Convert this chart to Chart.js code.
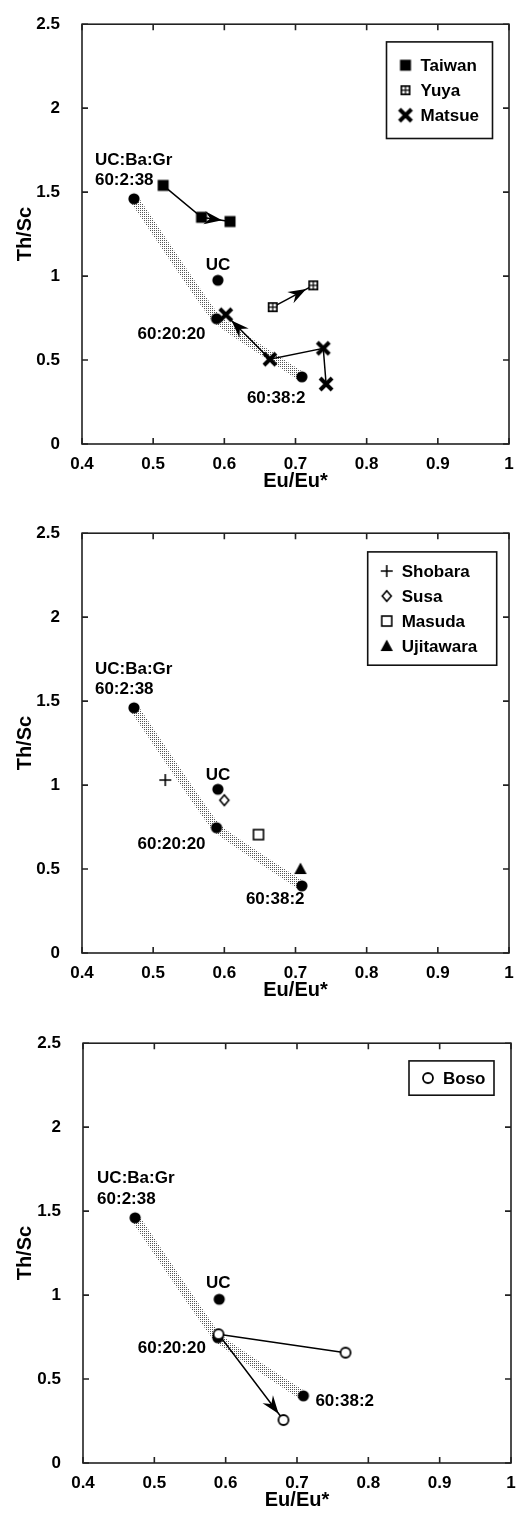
<!DOCTYPE html>
<html>
<head>
<meta charset="utf-8">
<script src="https://cdn.jsdelivr.net/npm/chart.js@4.4.0/dist/chart.umd.min.js"></script>
<style>
html, body { margin: 0; padding: 0; background: #fff; }
body { width: 524px; height: 1517px; position: relative; overflow: hidden; }
canvas { position: absolute; left: 0; }
</style>
</head>
<body>
<canvas id="panel1" width="524" height="498" style="top:0px"></canvas>
<canvas id="panel2" width="524" height="498" style="top:509px"></canvas>
<canvas id="panel3" width="524" height="498" style="top:1019px"></canvas>
<script>
// Tick labels
const xTickLabels = ['0.4', '0.5', '0.6', '0.7', '0.8', '0.9', '1'];
const yTickLabels = ['0', '0.5', '1', '1.5', '2', '2.5'];

// Mixing model UC:Ba:Gr (Eu/Eu*, Th/Sc)
const mixLabels = ['60:2:38', '60:20:20', '60:38:2'];
const mixEu = [0.473, 0.589, 0.709];
const mixTh = [1.46, 0.746, 0.40];
const ucEu = [0.591];
const ucTh = [0.975];

// Panel 1 samples
const taiwanEu = [0.514, 0.568, 0.608];
const taiwanTh = [1.54, 1.35, 1.325];
const yuyaEu = [0.668, 0.725];
const yuyaTh = [0.815, 0.945];
const matsueEu = [0.743, 0.739, 0.664, 0.602];
const matsueTh = [0.357, 0.57, 0.505, 0.77];

// Panel 2 samples
const shobaraEu = [0.517];
const shobaraTh = [1.03];
const susaEu = [0.60];
const susaTh = [0.91];
const masudaEu = [0.648];
const masudaTh = [0.705];
const ujitawaraEu = [0.707];
const ujitawaraTh = [0.50];

// Panel 3 samples
const bosoEu = [0.768, 0.59, 0.681];
const bosoTh = [0.657, 0.767, 0.256];

const FONT = "'Liberation Sans', Arial, Helvetica, sans-serif";
Chart.defaults.font.family = FONT;
Chart.defaults.font.size = 17;
Chart.defaults.color = '#000';

function toPts(xs, ys) {
    return xs.map((x, i) => ({ x: x, y: ys[i] }));
}

// Marker images used as point styles and in the legends
function makeMarker(kind) {
    const c = document.createElement('canvas');
    c.width = 20; c.height = 20;
    const g = c.getContext('2d');
    g.translate(10, 10);
    g.strokeStyle = '#000';
    g.fillStyle = '#000';
    g.lineWidth = 1.5;
    if (kind === 'dot') {
        g.beginPath(); g.arc(0, 0, 5.6, 0, Math.PI * 2); g.fill();
    } else if (kind === 'square') {
        g.fillRect(-5.5, -5.5, 11, 11);
    } else if (kind === 'grid') {
        g.fillRect(-5, -5, 10, 10);
        g.fillStyle = '#fff';
        g.fillRect(-3.3, -3.3, 2.7, 2.7);
        g.fillRect(0.6, -3.3, 2.7, 2.7);
        g.fillRect(-3.3, 0.6, 2.7, 2.7);
        g.fillRect(0.6, 0.6, 2.7, 2.7);
    } else if (kind === 'cross') {
        g.lineWidth = 4;
        g.beginPath(); g.moveTo(-6, -6); g.lineTo(6, 6); g.moveTo(6, -6); g.lineTo(-6, 6); g.stroke();
    } else if (kind === 'plus') {
        g.lineWidth = 1.6;
        g.beginPath(); g.moveTo(-6, 0); g.lineTo(6, 0); g.moveTo(0, -6); g.lineTo(0, 6); g.stroke();
    } else if (kind === 'diamond') {
        g.fillStyle = '#fff';
        g.lineWidth = 1.6;
        g.beginPath(); g.moveTo(0, -5.2); g.lineTo(4.5, 0); g.lineTo(0, 5.2); g.lineTo(-4.5, 0); g.closePath();
        g.fill(); g.stroke();
    } else if (kind === 'openSquare') {
        g.fillStyle = '#fff';
        g.lineWidth = 1.6;
        g.fillRect(-5, -5, 10, 10);
        g.strokeRect(-5, -5, 10, 10);
    } else if (kind === 'triangle') {
        g.beginPath(); g.moveTo(0, -6.5); g.lineTo(6.2, 5); g.lineTo(-6.2, 5); g.closePath(); g.fill();
    } else if (kind === 'openCircle') {
        g.fillStyle = '#fff';
        g.lineWidth = 1.8;
        g.beginPath(); g.arc(0, 0, 5, 0, Math.PI * 2); g.fill(); g.stroke();
    }
    return c;
}

const markers = {};
['dot', 'square', 'grid', 'cross', 'plus', 'diamond', 'openSquare', 'triangle', 'openCircle'].forEach(k => {
    markers[k] = makeMarker(k);
});

// Stipple pattern for the mixing band
const patCanvas = document.createElement('canvas');
patCanvas.width = 2; patCanvas.height = 2;
const patCtx = patCanvas.getContext('2d');
patCtx.fillStyle = '#555';
patCtx.fillRect(0, 0, 1, 1);
const stipple = patCtx.createPattern(patCanvas, 'repeat');

// Datasets shared by every panel
function mixingDatasets() {
    return [{
        label: 'mixing',
        data: toPts(mixEu, mixTh),
        showLine: true,
        borderColor: stipple,
        borderWidth: 9,
        pointRadius: 0,
        tension: 0.1,
        order: 10
    }, {
        label: 'end-members',
        data: toPts(mixEu.concat(ucEu), mixTh.concat(ucTh)),
        pointStyle: markers.dot,
        pointRadius: 5,
        order: 5
    }];
}

function sampleDataset(label, xs, ys, marker, withLine) {
    return {
        label: label,
        data: toPts(xs, ys),
        showLine: withLine,
        borderColor: '#000',
        borderWidth: 1.5,
        pointStyle: marker,
        pointRadius: 5,
        order: 1
    };
}

// Decorations per panel (labels, legend, arrows)
const decor = {
    panel1: {
        labels: [
            { text: 'UC:Ba:Gr', at: 0, dx: -39, dy: -39, align: 'left' },
            { text: mixLabels[0], at: 0, dx: -39, dy: -19, align: 'left' },
            { text: 'UC', at: 3, dx: 0, dy: -15, align: 'center' },
            { text: mixLabels[1], at: 1, dx: -79, dy: 16, align: 'left' },
            { text: mixLabels[2], at: 2, dx: -55, dy: 21, align: 'left' }
        ],
        legend: { right: 16.5, top: 17.7, w: 106, h: 96.6,
            items: [['Taiwan', markers.square], ['Yuya', markers.grid], ['Matsue', markers.cross]] },
        arrows: ['Taiwan', 'Yuya', 'Matsue']
    },
    panel2: {
        labels: [
            { text: 'UC:Ba:Gr', at: 0, dx: -39, dy: -39, align: 'left' },
            { text: mixLabels[0], at: 0, dx: -39, dy: -19, align: 'left' },
            { text: 'UC', at: 3, dx: 0, dy: -14, align: 'center' },
            { text: mixLabels[1], at: 1, dx: -79, dy: 17, align: 'left' },
            { text: mixLabels[2], at: 2, dx: -56, dy: 13, align: 'left' }
        ],
        legend: { right: 12.3, top: 18.7, w: 129, h: 113.3,
            items: [['Shobara', markers.plus], ['Susa', markers.diamond], ['Masuda', markers.openSquare], ['Ujitawara', markers.triangle]] },
        arrows: []
    },
    panel3: {
        labels: [
            { text: 'UC:Ba:Gr', at: 0, dx: -38, dy: -40, align: 'left' },
            { text: mixLabels[0], at: 0, dx: -38, dy: -19, align: 'left' },
            { text: 'UC', at: 3, dx: -1, dy: -16, align: 'center' },
            { text: mixLabels[1], at: 1, dx: -80, dy: 11, align: 'left' },
            { text: mixLabels[2], at: 2, dx: 12, dy: 5, align: 'left' }
        ],
        legend: { right: 17, top: 17.7, w: 85, h: 34.3,
            items: [['Boso', markers.openCircle]] },
        arrows: ['Boso']
    }
};

function drawArrowHead(ctx, x0, y0, x1, y1) {
    const len = Math.hypot(x1 - x0, y1 - y0);
    const ux = (x1 - x0) / len, uy = (y1 - y0) / len;
    const nx = -uy, ny = ux;
    const tx = x1 - ux * 8, ty = y1 - uy * 8;
    const L = 18, W = 6.5, notch = 12;
    const bx = tx - ux * L, by = ty - uy * L;
    ctx.beginPath();
    ctx.moveTo(tx, ty);
    ctx.lineTo(bx + nx * W, by + ny * W);
    ctx.lineTo(tx - ux * notch, ty - uy * notch);
    ctx.lineTo(bx - nx * W, by - ny * W);
    ctx.closePath();
    ctx.fill();
}

const panelPlugin = {
    id: 'panelDecor',
    afterDatasetsDraw(chart) {
        const d = decor[chart.canvas.id];
        const ctx = chart.ctx;
        ctx.save();
        ctx.fillStyle = '#000';
        chart.data.datasets.forEach((ds, i) => {
            if (d.arrows.indexOf(ds.label) < 0) return;
            const pts = chart.getDatasetMeta(i).data;
            const a = pts[pts.length - 2], b = pts[pts.length - 1];
            drawArrowHead(ctx, a.x, a.y, b.x, b.y);
        });
        ctx.restore();
    },
    afterDraw(chart) {
        const d = decor[chart.canvas.id];
        const ctx = chart.ctx;
        const area = chart.chartArea;
        const xs = chart.scales.x, ys = chart.scales.y;
        ctx.save();

        // frame and inward ticks
        ctx.strokeStyle = '#222';
        ctx.lineWidth = 1.6;
        ctx.strokeRect(area.left, area.top, area.right - area.left, area.bottom - area.top);
        ctx.beginPath();
        xs.ticks.forEach(t => {
            const px = xs.getPixelForValue(t.value);
            ctx.moveTo(px, area.bottom); ctx.lineTo(px, area.bottom - 6);
            ctx.moveTo(px, area.top); ctx.lineTo(px, area.top + 6);
        });
        ys.ticks.forEach(t => {
            const py = ys.getPixelForValue(t.value);
            ctx.moveTo(area.left, py); ctx.lineTo(area.left + 6, py);
            ctx.moveTo(area.right, py); ctx.lineTo(area.right - 6, py);
        });
        ctx.stroke();

        // labels on the mixing points
        const anchorsX = mixEu.concat(ucEu), anchorsY = mixTh.concat(ucTh);
        ctx.fillStyle = '#000';
        ctx.font = 'bold 17px ' + FONT;
        ctx.textBaseline = 'middle';
        d.labels.forEach(l => {
            ctx.textAlign = l.align;
            ctx.fillText(l.text,
                xs.getPixelForValue(anchorsX[l.at]) + l.dx,
                ys.getPixelForValue(anchorsY[l.at]) + l.dy);
        });

        // legend box
        const lg = d.legend;
        const bx = area.right - lg.right - lg.w, by = area.top + lg.top;
        ctx.lineWidth = 1.6;
        ctx.strokeStyle = '#111';
        ctx.strokeRect(bx, by, lg.w, lg.h);
        const rowH = 25;
        const firstY = by + (lg.h - (lg.items.length - 1) * rowH) / 2;
        ctx.textAlign = 'left';
        lg.items.forEach((it, i) => {
            const cy = firstY + i * rowH;
            ctx.drawImage(it[1], bx + 19 - 10, cy - 10);
            ctx.fillText(it[0], bx + 34, cy + 1);
        });
        ctx.restore();
    }
};

function scaleOptions(leftWidth) {
    return {
        x: {
            type: 'linear',
            min: 0.4,
            max: 1,
            grid: { display: false },
            border: { display: false },
            ticks: {
                stepSize: 0.1,
                padding: 2,
                font: { size: 17, weight: 'bold' },
                callback: v => xTickLabels[Math.round((v - 0.4) / 0.1)]
            },
            title: { display: true, text: 'Eu/Eu*', font: { size: 20, weight: 'bold' }, padding: { top: 0, bottom: 5 } },
            afterFit: s => { s.height = 54; }
        },
        y: {
            type: 'linear',
            min: 0,
            max: 2.5,
            grid: { display: false },
            border: { display: false },
            ticks: {
                stepSize: 0.5,
                padding: 14,
                font: { size: 17, weight: 'bold' },
                callback: v => yTickLabels[Math.round(v / 0.5)]
            },
            title: { display: true, text: 'Th/Sc', font: { size: 20, weight: 'bold' }, padding: { top: 13, bottom: 0 } },
            afterFit: s => { s.width = leftWidth; }
        }
    };
}

function createPanel(canvasId, datasets, leftWidth, rightPad) {
    return new Chart(document.getElementById(canvasId), {
        type: 'scatter',
        data: { datasets: mixingDatasets().concat(datasets) },
        options: {
            responsive: false,
            animation: false,
            layout: { padding: { top: 14, left: 0, right: rightPad, bottom: 0 } },
            plugins: { legend: { display: false }, tooltip: { enabled: false } },
            scales: scaleOptions(leftWidth)
        },
        plugins: [panelPlugin]
    });
}

createPanel('panel1', [
    sampleDataset('Taiwan', taiwanEu, taiwanTh, markers.square, true),
    sampleDataset('Yuya', yuyaEu, yuyaTh, markers.grid, true),
    sampleDataset('Matsue', matsueEu, matsueTh, markers.cross, true)
], 82, 15);

createPanel('panel2', [
    sampleDataset('Shobara', shobaraEu, shobaraTh, markers.plus, false),
    sampleDataset('Susa', susaEu, susaTh, markers.diamond, false),
    sampleDataset('Masuda', masudaEu, masudaTh, markers.openSquare, false),
    sampleDataset('Ujitawara', ujitawaraEu, ujitawaraTh, markers.triangle, false)
], 82, 15);

createPanel('panel3', [
    sampleDataset('Boso', bosoEu, bosoTh, markers.openCircle, true)
], 83, 13);
</script>
</body>
</html>
